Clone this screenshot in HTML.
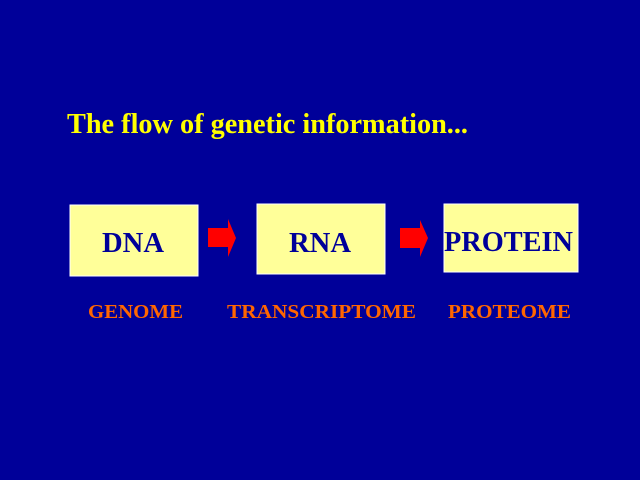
<!DOCTYPE html>
<html><head><style>html,body{margin:0;padding:0;background:#000099;}svg{display:block}</style></head>
<body>
<svg width="640" height="480" xmlns="http://www.w3.org/2000/svg" font-family="Liberation Serif, serif" font-weight="bold">
<rect width="640" height="480" fill="#000099"/>
<text x="67" y="133" font-size="28" fill="#ffff00" textLength="401" lengthAdjust="spacingAndGlyphs">The flow of genetic information...</text>
<rect x="70" y="205" width="128" height="71" fill="#ffff99" stroke="#ffffff" stroke-width="1"/>
<rect x="257" y="204" width="128" height="70" fill="#ffff99" stroke="#ffffff" stroke-width="1"/>
<rect x="444" y="204" width="134" height="68" fill="#ffff99" stroke="#ffffff" stroke-width="1"/>
<text x="102" y="252" font-size="28" fill="#000099" textLength="62" lengthAdjust="spacingAndGlyphs">DNA</text>
<text x="289" y="252" font-size="28" fill="#000099" textLength="62" lengthAdjust="spacingAndGlyphs">RNA</text>
<text x="444" y="251" font-size="28" fill="#000099" textLength="129" lengthAdjust="spacingAndGlyphs">PROTEIN</text>
<polygon points="208,228 228,228 228,219 236,238 228,257 228,247 208,247" fill="#ff0000"/>
<polygon points="400,228 420,228 420,220 428,238 420,257 420,248 400,248" fill="#ff0000"/>
<text x="88" y="318" font-size="20" fill="#ff6600" textLength="95" lengthAdjust="spacingAndGlyphs">GENOME</text>
<text x="227" y="318" font-size="20" fill="#ff6600" textLength="189" lengthAdjust="spacingAndGlyphs">TRANSCRIPTOME</text>
<text x="448" y="318" font-size="20" fill="#ff6600" textLength="123" lengthAdjust="spacingAndGlyphs">PROTEOME</text>
</svg>
</body></html>
